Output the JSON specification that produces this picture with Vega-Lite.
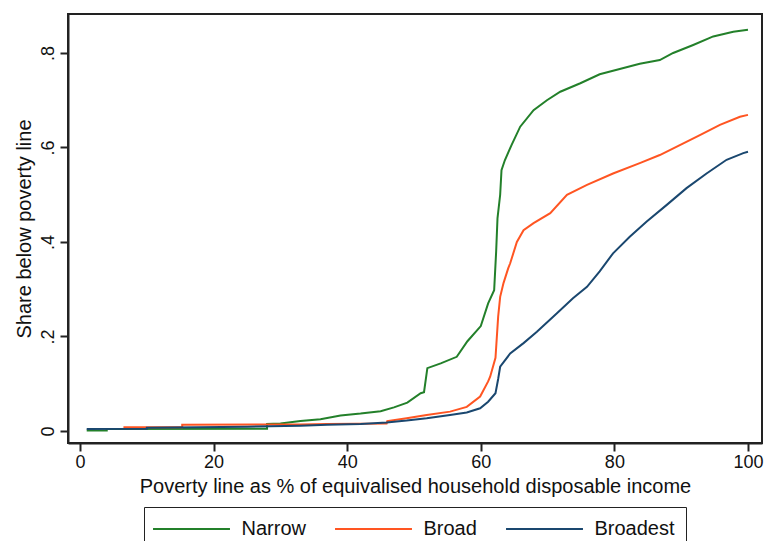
{
  "$schema": "https://vega.github.io/schema/vega-lite/v6.json",
  "width": 694,
  "height": 429,
  "autosize": {"type": "none"},
  "padding": {"left": 68, "top": 14, "right": 5, "bottom": 98},
  "background": "white",
  "config": {
    "font": "Liberation Sans",
    "view": {"stroke": "#222", "strokeWidth": 2},
    "axis": {
      "domainColor": "#222", "domainWidth": 2, "tickColor": "#222", "tickWidth": 2, "tickSize": 8,
      "grid": false, "labelFont": "Liberation Sans", "titleFont": "Liberation Sans",
      "labelFontSize": 18, "titleFontSize": 20, "labelColor": "#111", "titleColor": "#111", "titleFontWeight": "normal"
    },
    "legend": {
      "labelFont": "Liberation Sans", "labelFontSize": 20, "labelColor": "#111"
    }
  },
  "data": {"values": [
    {"s":"Narrow","x":1,"y":0.001},{"s":"Narrow","x":4,"y":0.001},{"s":"Narrow","x":4,"y":0.004},{"s":"Narrow","x":28,"y":0.005},{"s":"Narrow","x":28,"y":0.015},{"s":"Narrow","x":30,"y":0.016},{"s":"Narrow","x":33,"y":0.021},{"s":"Narrow","x":36,"y":0.025},{"s":"Narrow","x":39,"y":0.033},{"s":"Narrow","x":42,"y":0.037},{"s":"Narrow","x":45,"y":0.042},{"s":"Narrow","x":47,"y":0.05},{"s":"Narrow","x":49,"y":0.06},{"s":"Narrow","x":51,"y":0.08},{"s":"Narrow","x":51.5,"y":0.082},{"s":"Narrow","x":52,"y":0.133},{"s":"Narrow","x":54,"y":0.143},{"s":"Narrow","x":56.4,"y":0.157},{"s":"Narrow","x":58,"y":0.19},{"s":"Narrow","x":60,"y":0.222},{"s":"Narrow","x":61.1,"y":0.27},{"s":"Narrow","x":62,"y":0.298},{"s":"Narrow","x":62.3,"y":0.38},{"s":"Narrow","x":62.5,"y":0.45},{"s":"Narrow","x":62.9,"y":0.5},{"s":"Narrow","x":63.1,"y":0.552},{"s":"Narrow","x":63.6,"y":0.573},{"s":"Narrow","x":64.6,"y":0.605},{"s":"Narrow","x":65.9,"y":0.644},{"s":"Narrow","x":67.9,"y":0.679},{"s":"Narrow","x":69.9,"y":0.7},{"s":"Narrow","x":71.9,"y":0.718},{"s":"Narrow","x":74.9,"y":0.736},{"s":"Narrow","x":77.8,"y":0.755},{"s":"Narrow","x":80.8,"y":0.766},{"s":"Narrow","x":83.8,"y":0.777},{"s":"Narrow","x":86.8,"y":0.785},{"s":"Narrow","x":88.8,"y":0.8},{"s":"Narrow","x":91.8,"y":0.817},{"s":"Narrow","x":94.8,"y":0.835},{"s":"Narrow","x":97.8,"y":0.845},{"s":"Narrow","x":100,"y":0.849},
    {"s":"Broad","x":6.5,"y":0.008},{"s":"Broad","x":15.3,"y":0.008},{"s":"Broad","x":15.3,"y":0.013},{"s":"Broad","x":33,"y":0.014},{"s":"Broad","x":37,"y":0.015},{"s":"Broad","x":45.9,"y":0.016},{"s":"Broad","x":46,"y":0.021},{"s":"Broad","x":48.9,"y":0.027},{"s":"Broad","x":51.9,"y":0.034},{"s":"Broad","x":55.4,"y":0.041},{"s":"Broad","x":57.9,"y":0.051},{"s":"Broad","x":59.9,"y":0.073},{"s":"Broad","x":61.1,"y":0.105},{"s":"Broad","x":61.4,"y":0.115},{"s":"Broad","x":62.2,"y":0.155},{"s":"Broad","x":62.6,"y":0.242},{"s":"Broad","x":62.9,"y":0.284},{"s":"Broad","x":63.4,"y":0.313},{"s":"Broad","x":64.1,"y":0.344},{"s":"Broad","x":64.4,"y":0.355},{"s":"Broad","x":65.4,"y":0.4},{"s":"Broad","x":66.4,"y":0.425},{"s":"Broad","x":67.9,"y":0.44},{"s":"Broad","x":70.4,"y":0.461},{"s":"Broad","x":72.9,"y":0.5},{"s":"Broad","x":75.9,"y":0.521},{"s":"Broad","x":79.8,"y":0.545},{"s":"Broad","x":83.8,"y":0.567},{"s":"Broad","x":86.8,"y":0.584},{"s":"Broad","x":89.8,"y":0.605},{"s":"Broad","x":92.8,"y":0.626},{"s":"Broad","x":95.8,"y":0.648},{"s":"Broad","x":98.8,"y":0.665},{"s":"Broad","x":100,"y":0.669},
    {"s":"Broadest","x":1,"y":0.004},{"s":"Broadest","x":10,"y":0.005},{"s":"Broadest","x":10,"y":0.007},{"s":"Broadest","x":25,"y":0.009},{"s":"Broadest","x":33,"y":0.011},{"s":"Broadest","x":37,"y":0.013},{"s":"Broadest","x":42,"y":0.015},{"s":"Broadest","x":45.9,"y":0.018},{"s":"Broadest","x":48.9,"y":0.022},{"s":"Broadest","x":51.9,"y":0.027},{"s":"Broadest","x":55.4,"y":0.034},{"s":"Broadest","x":57.9,"y":0.039},{"s":"Broadest","x":59.9,"y":0.048},{"s":"Broadest","x":61.1,"y":0.062},{"s":"Broadest","x":62.2,"y":0.08},{"s":"Broadest","x":62.6,"y":0.11},{"s":"Broadest","x":62.9,"y":0.136},{"s":"Broadest","x":64.4,"y":0.164},{"s":"Broadest","x":66.4,"y":0.186},{"s":"Broadest","x":68.4,"y":0.21},{"s":"Broadest","x":71.4,"y":0.249},{"s":"Broadest","x":73.8,"y":0.281},{"s":"Broadest","x":75.9,"y":0.305},{"s":"Broadest","x":77.8,"y":0.338},{"s":"Broadest","x":79.8,"y":0.376},{"s":"Broadest","x":82.3,"y":0.411},{"s":"Broadest","x":84.8,"y":0.443},{"s":"Broadest","x":87.8,"y":0.478},{"s":"Broadest","x":90.8,"y":0.514},{"s":"Broadest","x":93.8,"y":0.545},{"s":"Broadest","x":96.8,"y":0.574},{"s":"Broadest","x":99.3,"y":0.588},{"s":"Broadest","x":100,"y":0.591}
  ]},
  "mark": {"type": "line", "strokeWidth": 2, "clip": true},
  "encoding": {
    "x": {
      "field": "x", "type": "quantitative",
      "scale": {"domain": [-1.8, 102.1], "nice": false, "zero": false},
      "axis": {"values": [0, 20, 40, 60, 80, 100], "title": "Poverty line as % of equivalised household disposable income", "labelPadding": 2, "titlePadding": 5}
    },
    "y": {
      "field": "y", "type": "quantitative",
      "scale": {"domain": [-0.0254, 0.8825], "nice": false, "zero": false},
      "axis": {"values": [0, 0.2, 0.4, 0.6, 0.8], "labelExpr": "datum.value == 0 ? '0' : replace(format(datum.value, '.1f'), '0.', '.')", "labelAngle": -90, "labelAlign": "center", "labelBaseline": "bottom", "labelPadding": 3, "title": "Share below poverty line", "titlePadding": 5}
    },
    "color": {
      "field": "s", "type": "nominal",
      "scale": {"domain": ["Narrow", "Broad", "Broadest"], "range": ["#23802a", "#ff5522", "#1a476f"]},
      "legend": {
        "title": null, "orient": "none", "legendX": 76, "legendY": 493, "direction": "horizontal",
        "symbolType": "M-4,0H4", "symbolSize": 370, "symbolStrokeWidth": 2, "symbolFillColor": "transparent",
        "symbolOffset": 25.5,
        "strokeColor": "#222", "fillColor": "white", "padding": 11,
        "labelOffset": 39, "columnPadding": 25
      }
    },
    "order": {"field": "s"}
  }
}
